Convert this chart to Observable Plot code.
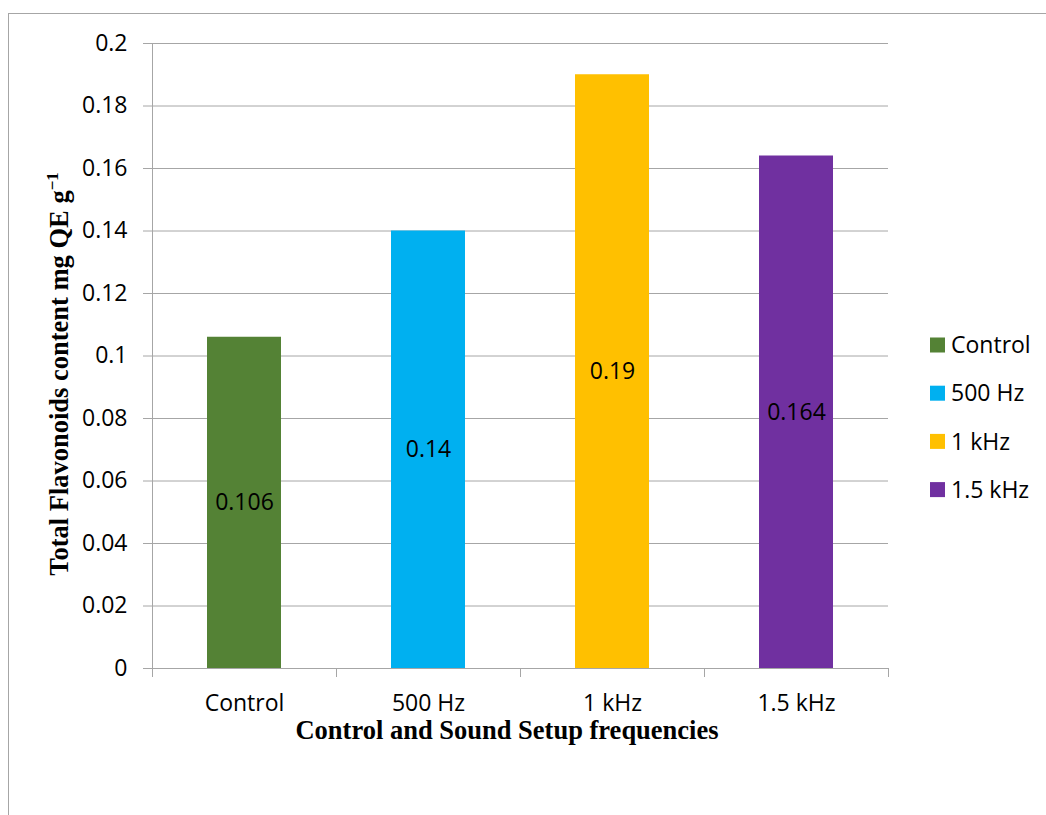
<!DOCTYPE html>
<html>
<head>
<meta charset="utf-8">
<script src="https://cdn.jsdelivr.net/npm/d3@7"></script>
<script src="https://cdn.jsdelivr.net/npm/@observablehq/plot@0.6"></script>
<style>
  body { margin: 0; background: #fff; }
  #wrap { position: relative; width: 1046px; height: 815px; overflow: hidden; }
  #edge { position: absolute; left: 8px; top: 13px; width: 1200px; height: 1000px;
          border-left: 1.5px solid #a6a6a6; border-top: 1.5px solid #a6a6a6; }
  #wrap svg { position: absolute; left: 0; top: 0; }
</style>
</head>
<body>
<div id="wrap"><div id="edge"></div></div>
<script>
// Total flavonoid content per treatment group
const groups = ["Control", "500 Hz", "1 kHz", "1.5 kHz"];
const flavonoids = [0.106, 0.14, 0.19, 0.164];
const groupColors = ["#548235", "#00b0f0", "#ffc000", "#7030a0"];
const yTicks = [0, 0.02, 0.04, 0.06, 0.08, 0.1, 0.12, 0.14, 0.16, 0.18, 0.2];
const yTitle = "Total Flavonoids content mg QE g";
const yTitleSup = "−1";
const xTitle = "Control and Sound Setup frequencies";

const rows = groups.map((g, i) => ({group: g, value: flavonoids[i]}));
const lineGray = "#a6a6a6";
const sansFont = "'Open Sans', sans-serif";
const serifFont = "'Liberation Serif', 'Times New Roman', serif";
const labelSize = 23;
const titleSize = 26.5;

const W = 1046, H = 815;
const mL = 152, mR = 158, mT = 43, mB = 147;
const half = (W - mL - mR) / groups.length / 2;

const chart = Plot.plot({
  width: W, height: H,
  marginLeft: mL, marginRight: mR, marginTop: mT, marginBottom: mB,
  style: {fontFamily: sansFont, fontSize: labelSize + "px", color: "#000", background: "transparent"},
  x: {domain: groups, padding: 0},
  y: {domain: [0, 0.2]},
  color: {domain: groups, range: groupColors},
  marks: [
    // horizontal gridlines
    Plot.ruleY(yTicks.slice(1), {stroke: lineGray, strokeWidth: 1}),
    // category axis baseline
    Plot.ruleY([0], {stroke: lineGray, strokeWidth: 1}),
    // value axis line (with its tick below the baseline)
    Plot.ruleX(groups.slice(0, 1), {x: d => d, dx: -half, stroke: lineGray, insetBottom: -9}),
    // category boundary ticks
    Plot.ruleX(groups.slice(1), {x: d => d, dx: -half, y1: 0, y2: 0, insetBottom: -9, stroke: lineGray}),
    Plot.ruleX(groups.slice(-1), {x: d => d, dx: half, y1: 0, y2: 0, insetBottom: -9, stroke: lineGray}),
    Plot.axisY({
      ticks: yTicks, tickSize: 9, tickPadding: 16, stroke: lineGray, fill: "#000",
      tickFormat: d => String(+d.toFixed(2)), label: null
    }),
    Plot.axisX({tickSize: 0, tickPadding: 26, fill: "#000", label: null}),
    Plot.barY(rows, {x: "group", y: "value", fill: "group", insetLeft: 55, insetRight: 55}),
    Plot.text(rows, {
      x: "group", y: d => d.value / 2, text: d => String(d.value),
      fill: "#000", fontSize: labelSize
    })
  ]
});

const wrap = document.getElementById("wrap");
wrap.appendChild(chart);
const svg = d3.select(chart);

// axis titles
svg.append("text")
  .attr("x", 507).attr("y", 739)
  .attr("text-anchor", "middle")
  .attr("font-family", serifFont).attr("font-weight", "bold").attr("font-size", titleSize)
  .attr("fill", "#000")
  .text(xTitle);

const yt = svg.append("text")
  .attr("transform", "translate(68,374) rotate(-90)")
  .attr("text-anchor", "middle")
  .attr("font-family", serifFont).attr("font-weight", "bold").attr("font-size", titleSize)
  .attr("fill", "#000");
yt.append("tspan").text(yTitle);
yt.append("tspan").attr("dy", -10).attr("font-size", 17).text(yTitleSup);

// legend
const legend = svg.append("g")
  .attr("font-family", sansFont).attr("font-size", labelSize).attr("text-anchor", "start");
groups.forEach((g, i) => {
  const cy = 345 + i * 48.2;
  legend.append("rect").attr("x", 930).attr("y", cy - 7.5).attr("width", 15).attr("height", 15)
    .attr("fill", groupColors[i]);
  legend.append("text").attr("x", 951).attr("y", cy).attr("dy", "0.36em")
    .attr("fill", "#000").text(g);
});
</script>
</body>
</html>
